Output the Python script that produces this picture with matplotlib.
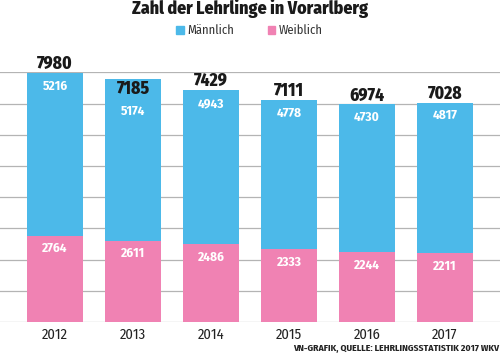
import matplotlib
matplotlib.use("Agg")
import matplotlib.pyplot as plt
from matplotlib.patches import Rectangle

years = ["2012", "2013", "2014", "2015", "2016", "2017"]
maennlich = [5216, 5174, 4943, 4778, 4730, 4817]
weiblich = [2764, 2611, 2486, 2333, 2244, 2211]
gesamt = [7980, 7185, 7429, 7111, 6974, 7028]

blue = "#4cb9e9"
pink = "#f082b3"
fam = ["Fira Sans Condensed", "DejaVu Sans"]

fig = plt.figure(figsize=(5, 3.55), dpi=100)
ax = fig.add_axes([0, 0.093, 1, 0.703])

x = range(len(years))
ax.bar(x, weiblich, width=0.72, color=pink, zorder=2)
ax.bar(x, maennlich, width=0.72, bottom=weiblich, color=blue, zorder=2)

for i in x:
    ax.text(i, gesamt[i] + 290, str(gesamt[i]), ha="center", va="center",
            fontsize=12.5, fontweight="heavy", family=fam, color="#1a1a1a", clip_on=False)
    ax.text(i, gesamt[i] - 420, str(maennlich[i]), ha="center", va="center",
            fontsize=9.5, fontweight="bold", family=fam, color="white")
    ax.text(i, weiblich[i] - 420, str(weiblich[i]), ha="center", va="center",
            fontsize=9.5, fontweight="bold", family=fam, color="white")

ax.set_xlim(-0.705, 5.705)
ax.set_ylim(0, 8000)
for v in range(0, 9000, 1000):
    ax.axhline(v, color="#b4b4b4", lw=0.9, zorder=1)
for s in ax.spines.values():
    s.set_visible(False)
ax.set_yticks([])
ax.set_xticks(list(x))
ax.set_xticklabels(years, family=fam, fontsize=10.5, color="#222222")
ax.tick_params(axis="x", length=0, pad=4)

fig.text(0.5, 1 - 8 / 355, "Zahl der Lehrlinge in Vorarlberg", ha="center", va="center",
         fontsize=12.8, fontweight="heavy", family=fam, color="#1a1a1a")

# legend
fig.patches.append(Rectangle((176 / 500, 1 - 34 / 355), 8 / 500, 8 / 355,
                             transform=fig.transFigure, color=blue))
fig.text(187 / 500, 1 - 30 / 355, "Männlich", ha="left", va="center",
         fontsize=9, family=fam, color="#333333")
fig.patches.append(Rectangle((268 / 500, 1 - 34 / 355), 7 / 500, 8 / 355,
                             transform=fig.transFigure, color=pink))
fig.text(279 / 500, 1 - 30 / 355, "Weiblich", ha="left", va="center",
         fontsize=9, family=fam, color="#333333")

fig.text(0.998, 1 - 349 / 355, "VN-GRAFIK, QUELLE: LEHRLINGSSTATISTIK 2017 WKV", ha="right",
         va="center", fontsize=7, fontweight="bold", family=fam, color="#222222")

fig.savefig("out.png", dpi=100)
